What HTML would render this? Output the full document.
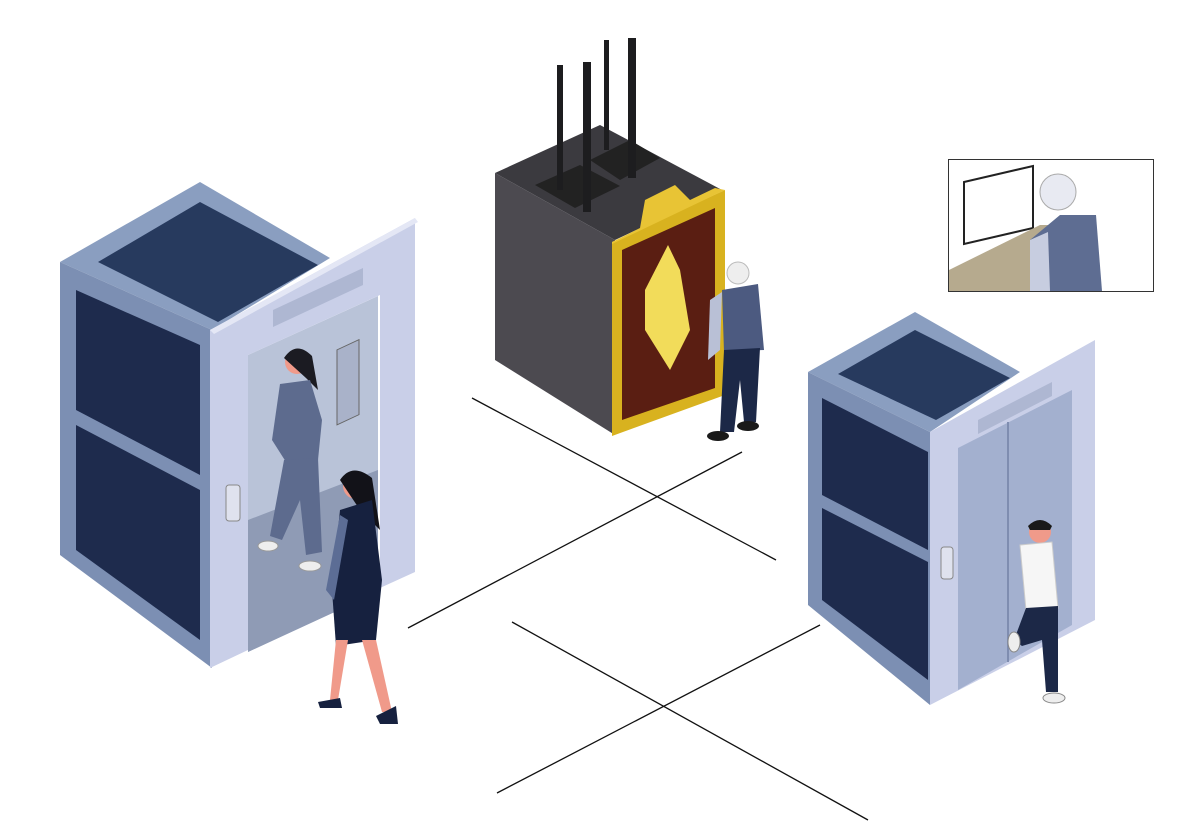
<!DOCTYPE html>
<html><head><meta charset="utf-8"><style>
html,body{margin:0;padding:0;background:#fff;}
svg{display:block}
</style></head><body>
<svg width="1200" height="840" viewBox="0 0 1200 840" xmlns="http://www.w3.org/2000/svg">
<rect width="1200" height="840" fill="#fff"/>
<!-- floor lines -->
<g stroke="#111" stroke-width="1.3">
<line x1="472" y1="398" x2="776" y2="560"/>
<line x1="408" y1="628" x2="742" y2="452"/>
<line x1="512" y1="622" x2="868" y2="820"/>
<line x1="497" y1="793" x2="820" y2="625"/>
</g>

<!-- LEFT ELEVATOR -->
<polygon points="60,262 200,182 330,258 212,330" fill="#8a9ec0"/>
<polygon points="98,262 200,202 318,265 218,322" fill="#273a5e"/>
<polygon points="60,262 212,330 212,668 60,555" fill="#7c8fb3"/>
<polygon points="76,290 200,345 200,475 76,410" fill="#1e2b4d"/>
<polygon points="76,425 200,490 200,640 76,550" fill="#1e2b4d"/>
<polygon points="248,355 378,296 378,592 248,652" fill="#b9c3d8"/>
<polygon points="248,520 378,470 378,592 248,652" fill="#8f9bb5"/>
<polygon points="210,330 415,218 415,572 380,588 380,295 248,355 248,650 210,668" fill="#c9cfe8"/>
<polygon points="210,330 415,218 418,222 214,334" fill="#e4e7f5"/>
<polygon points="273,310 363,268 363,285 273,327" fill="#aeb7d2"/>
<rect x="337" y="350" width="22" height="75" fill="#a9b2c9" stroke="#666" stroke-width="1" transform="skewY(-25) translate(0,157)"/>
<rect x="226" y="485" width="14" height="36" rx="3" fill="#dfe2ee" stroke="#888"/>
<!-- person in left elevator -->
<circle cx="297" cy="362" r="12" fill="#f09a8a"/>
<path d="M284 358 Q296 340 312 356 L318 390 L306 378 Z" fill="#1b1b22"/>
<path d="M280 384 L310 380 L322 420 L318 460 L286 462 L272 440 Z" fill="#5d6b8e"/>
<path d="M284 460 L318 458 L322 552 L306 555 L300 500 L282 540 L270 536 Z" fill="#5d6b8e"/>
<ellipse cx="268" cy="546" rx="10" ry="5" fill="#eee" stroke="#999"/>
<ellipse cx="310" cy="566" rx="11" ry="5" fill="#eee" stroke="#999"/>
<!-- woman walking -->
<circle cx="356" cy="486" r="13" fill="#f09a8a"/>
<path d="M340 480 Q352 462 372 478 L380 530 L360 510 Z" fill="#121218"/>
<path d="M340 510 L372 500 L382 580 L376 640 L336 646 L332 590 Z" fill="#16213f"/>
<path d="M326 590 L340 515 L348 520 L334 600 Z" fill="#5c6d95"/>
<path d="M336 640 L348 640 L338 700 L330 700 Z" fill="#f09a8a"/>
<path d="M362 640 L376 640 L392 712 L382 712 Z" fill="#f09a8a"/>
<path d="M318 702 L340 698 L342 708 L320 708 Z" fill="#16213f"/>
<path d="M376 716 L396 706 L398 724 L380 724 Z" fill="#16213f"/>

<!-- MIDDLE MACHINE -->
<polygon points="495,173 600,125 722,190 615,240" fill="#3b3a3f"/>
<polygon points="495,173 615,240 615,435 495,360" fill="#4c4a50"/>
<polygon points="612,242 725,190 725,395 612,436" fill="#d8b21f"/>
<polygon points="622,250 715,208 715,388 622,420" fill="#5a1e12"/>
<polygon points="612,242 640,228 645,200 675,185 690,200 715,188 725,190 612,244" fill="#e8c435"/>
<polygon points="535,185 580,165 620,186 575,208" fill="#222"/>
<polygon points="590,160 630,140 660,158 620,180" fill="#222"/>
<rect x="557" y="65" width="6" height="125" fill="#1d1d1f"/>
<rect x="583" y="62" width="8" height="150" fill="#1d1d1f"/>
<rect x="604" y="40" width="5" height="110" fill="#1d1d1f"/>
<rect x="628" y="38" width="8" height="140" fill="#1d1d1f"/>
<path d="M668 245 L645 290 L645 330 L670 370 L690 330 L680 270 Z" fill="#f2dc5a"/>
<!-- man at machine -->
<circle cx="738" cy="273" r="11" fill="#eee" stroke="#bbb"/>
<path d="M722 290 L758 284 L764 350 L724 352 Z" fill="#4c5a80"/>
<path d="M710 300 L722 292 L720 350 L708 360 Z" fill="#b9c0d6"/>
<path d="M724 350 L760 348 L756 422 L744 422 L740 380 L734 432 L720 432 Z" fill="#1c2847"/>
<ellipse cx="718" cy="436" rx="11" ry="5" fill="#1a1a1a"/>
<ellipse cx="748" cy="426" rx="11" ry="5" fill="#1a1a1a"/>

<!-- RIGHT ELEVATOR -->
<polygon points="808,372 915,312 1020,372 930,432" fill="#8a9ec0"/>
<polygon points="838,374 915,330 1010,378 936,420" fill="#273a5e"/>
<polygon points="808,372 930,432 930,705 808,605" fill="#7c8fb3"/>
<polygon points="822,398 928,452 928,550 822,495" fill="#1e2b4d"/>
<polygon points="822,508 928,562 928,680 822,600" fill="#1e2b4d"/>
<polygon points="930,432 1095,340 1095,620 930,705" fill="#c9cfe8"/>
<polygon points="958,448 1072,390 1072,625 958,690" fill="#a3b0cf"/>
<line x1="1008" y1="422" x2="1008" y2="662" stroke="#7f8db0" stroke-width="2"/>
<polygon points="978,420 1052,382 1052,396 978,434" fill="#aeb7d2"/>
<rect x="941" y="547" width="12" height="32" rx="3" fill="#dfe2ee" stroke="#888"/>
<!-- man right -->
<circle cx="1040" cy="532" r="11" fill="#f09a8a"/>
<path d="M1028 526 Q1040 514 1052 526 L1050 530 L1030 530 Z" fill="#1a1a1a"/>
<path d="M1020 545 L1052 542 L1058 608 L1026 610 Z" fill="#f6f6f6" stroke="#ccc"/>
<path d="M1026 608 L1058 606 L1058 692 L1046 692 L1042 640 L1022 646 L1014 640 Z" fill="#1c2847"/>
<ellipse cx="1054" cy="698" rx="11" ry="5" fill="#eee" stroke="#888"/>
<ellipse cx="1014" cy="642" rx="6" ry="10" fill="#eee" stroke="#888"/>

<!-- INSET -->
<rect x="948.5" y="159.5" width="205" height="132" fill="#fff" stroke="#333"/>
<polygon points="964,182 1033,166 1033,228 964,244" fill="#fff" stroke="#222" stroke-width="2"/>
<polygon points="949,270 1040,225 1060,225 1060,291 949,291" fill="#b6aa8e"/>
<circle cx="1058" cy="192" r="18" fill="#e8eaf2" stroke="#aaa"/>
<path d="M1030 240 L1060 215 L1096 215 L1102 291 L1030 291 Z" fill="#5e6d92"/>
<path d="M1030 240 L1048 232 L1050 291 L1030 291 Z" fill="#c7cde0"/>
</svg>
</body></html>
